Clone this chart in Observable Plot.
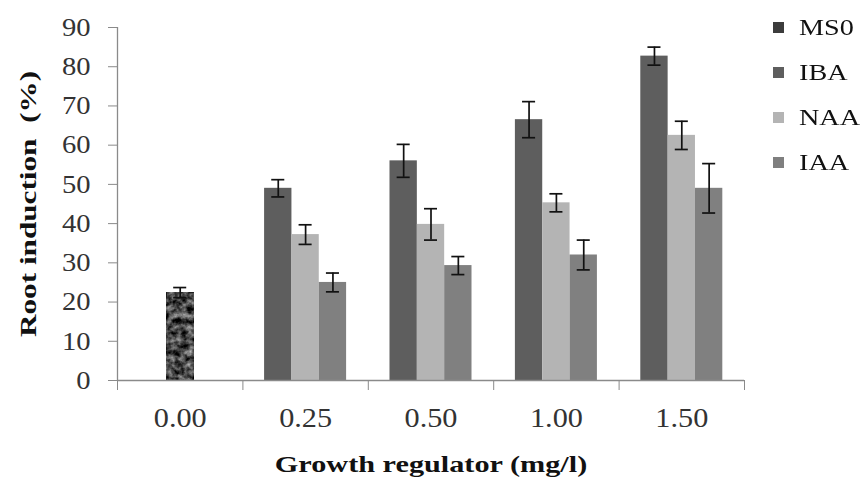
<!DOCTYPE html>
<html>
<head>
<meta charset="utf-8">
<script src="https://cdn.jsdelivr.net/npm/d3@7"></script>
<script src="https://cdn.jsdelivr.net/npm/@observablehq/plot@0.6"></script>
<style>
  html, body { margin: 0; padding: 0; background: #fff; }
  #wrap { position: relative; width: 865px; height: 486px; overflow: hidden; background: #fff; }
  .sw { position: absolute; width: 11px; height: 11px; }
  .lt { position: absolute; height: 30px; line-height: 30px; font-family: "Liberation Serif", serif; font-size: 23.5px; color: #111; transform: scaleX(1.2); transform-origin: left center; white-space: nowrap; }
</style>
</head>
<body>
<svg width="0" height="0" style="position:absolute">
  <defs>
    <filter id="grain" x="0" y="0" width="100%" height="100%" filterUnits="objectBoundingBox" color-interpolation-filters="sRGB">
      <feTurbulence type="fractalNoise" baseFrequency="0.16" numOctaves="3" seed="11" result="n"/>
      <feColorMatrix in="n" type="matrix" values="1.1 0 0 0 -0.27  1.1 0 0 0 -0.27  1.1 0 0 0 -0.27  0 0 0 0 1"/>
    </filter>
  </defs>
</svg>
<div id="wrap"></div>
<script>
// ---- data ----
const doses = ["0.00", "0.25", "0.50", "1.00", "1.50"];
const seriesNames = ["MS0", "IBA", "NAA", "IAA"];
const ms0 = [22.4, null, null, null, null];
const iba = [null, 49.0, 56.0, 66.5, 82.7];
const naa = [null, 37.2, 39.8, 45.3, 62.5];
const iaa = [null, 25.0, 29.3, 32.0, 49.0];
const ms0Err = [1.3, null, null, null, null];
const ibaErr = [null, 2.2, 4.2, 4.6, 2.3];
const naaErr = [null, 2.5, 4.0, 2.3, 3.6];
const iaaErr = [null, 2.4, 2.3, 3.8, 6.3];
const yTicks = [0, 10, 20, 30, 40, 50, 60, 70, 80, 90];
const colors = ["#474747", "#5e5e5e", "#b4b4b4", "#808080"];
const legendColors = ["#3c3c3c", "#5e5e5e", "#b4b4b4", "#7f7f7f"];

// ---- build table ----
const vals = {MS0: ms0, IBA: iba, NAA: naa, IAA: iaa};
const errs = {MS0: ms0Err, IBA: ibaErr, NAA: naaErr, IAA: iaaErr};
const slot = {MS0: 0, IBA: -1, NAA: 0, IAA: 1};
const rows = [];
seriesNames.forEach(s => vals[s].forEach((v, gi) => {
  if (v != null) rows.push({series: s, gi, v, e: errs[s][gi]});
}));
const BAR = 0.218;  // bar width in group units
const CAP = 0.052;  // half cap width
const cx = d => d.gi + 0.5 + slot[d.series] * BAR;

const serif = "'Liberation Serif', 'Times New Roman', serif";
const axisGray = "#8a8a8a";
const chart = Plot.plot({
  width: 865, height: 486,
  marginLeft: 117, marginRight: 121, marginTop: 27, marginBottom: 106,
  x: {domain: [0, doses.length], axis: null},
  y: {domain: [0, 90], axis: null},
  color: {domain: seriesNames, range: colors},
  style: {fontFamily: serif, fontSize: "26px", background: "white", color: "#333"},
  marks: [
    Plot.rectY(rows.filter(d => d.series !== "MS0"), {
      x1: d => cx(d) - BAR / 2, x2: d => cx(d) + BAR / 2, y1: 0, y2: "v", fill: "series"
    }),
    Plot.rectY(rows.filter(d => d.series === "MS0"), {
      x1: d => cx(d) - BAR / 2, x2: d => cx(d) + BAR / 2, y1: 0, y2: "v", fill: "series"
    }),
    Plot.ruleX(rows, {x: cx, y1: d => d.v - d.e, y2: d => d.v + d.e, stroke: "#111", strokeWidth: 1.7}),
    Plot.ruleY(rows, {y: d => d.v + d.e, x1: d => cx(d) - CAP, x2: d => cx(d) + CAP, stroke: "#111", strokeWidth: 1.7}),
    Plot.ruleY(rows, {y: d => d.v - d.e, x1: d => cx(d) - CAP, x2: d => cx(d) + CAP, stroke: "#111", strokeWidth: 1.7}),
    Plot.ruleX([0], {stroke: axisGray, strokeWidth: 1.3}),
    Plot.ruleY([0], {stroke: axisGray, strokeWidth: 1.3}),
    Plot.axisY({ticks: yTicks, tickSize: 9, tickPadding: 18, stroke: axisGray, fill: "#333", fontSize: 26, fontFamily: serif, label: null}),
    Plot.axisX({ticks: d3.range(doses.length + 1), tickSize: 10, tickFormat: () => "", stroke: axisGray, label: null}),
    Plot.axisX({ticks: doses.map((d, i) => i + 0.5), tickSize: 0, tickPadding: 27, tickFormat: v => doses[Math.floor(v)], fill: "#333", fontSize: 28, fontFamily: serif, label: null}),
    Plot.text(["Growth regulator (mg/l)"], {frameAnchor: "bottom", dy: 91, textAnchor: "middle", fontWeight: "bold", fontSize: 24, fontFamily: serif, fill: "#111"}),
    Plot.text(["Root induction  (%)"], {frameAnchor: "left", dx: -89, rotate: -90, textAnchor: "middle", fontWeight: "bold", fontSize: 24, fontFamily: serif, fill: "#111"})
  ]
});
const wrap = document.getElementById("wrap");
wrap.appendChild(chart);
const rectGroups = chart.querySelectorAll('g[aria-label="rect"]');
if (rectGroups.length > 1) rectGroups[1].setAttribute("filter", "url(#grain)");
// horizontal stretch of text to mimic the reference rendering
function stretchEl(t, k) {
  const w = t.getComputedTextLength();
  if (w > 0) {
    t.setAttribute("textLength", (w * k).toFixed(1));
    t.setAttribute("lengthAdjust", "spacingAndGlyphs");
  }
}
chart.querySelectorAll('g[aria-label="y-axis tick label"] text').forEach(t => stretchEl(t, 1.1));
chart.querySelectorAll('g[aria-label="x-axis tick label"] text').forEach(t => stretchEl(t, 1.08));
const titles = chart.querySelectorAll('g[aria-label="text"] text');
if (titles[0]) stretchEl(titles[0], 1.26);
if (titles[1]) stretchEl(titles[1], 1.3);

// legend
const legendY = [27, 72, 117, 162];
seriesNames.forEach((s, i) => {
  const sw = document.createElement("div");
  sw.className = "sw";
  sw.style.left = "773px";
  sw.style.top = (legendY[i] - 5.5) + "px";
  sw.style.background = legendColors[i];
  wrap.appendChild(sw);
  const t = document.createElement("div");
  t.className = "lt";
  t.style.left = "799px";
  t.style.top = (legendY[i] - 15) + "px";
  t.textContent = s;
  wrap.appendChild(t);
});
</script>
</body>
</html>
